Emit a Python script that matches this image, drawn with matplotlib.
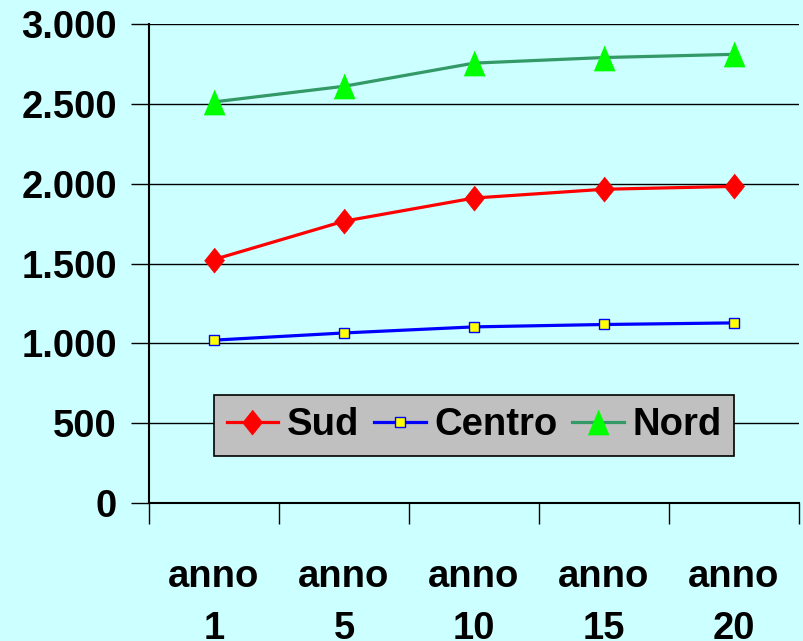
import matplotlib
matplotlib.use("Agg")
import matplotlib.pyplot as plt
from matplotlib.ticker import FuncFormatter, FixedLocator

categories = ["anno\n1", "anno\n5", "anno\n10", "anno\n15", "anno\n20"]
sud = [1525, 1765, 1910, 1965, 1983]
centro = [1020, 1065, 1103, 1118, 1128]
nord = [2512, 2610, 2755, 2790, 2810]
yticks = [0, 500, 1000, 1500, 2000, 2500, 3000]

plt.rcParams['font.family'] = ['Liberation Sans', 'DejaVu Sans']
plt.rcParams['font.weight'] = 'bold'

FS = 27.5
bg = '#CCFFFF'
fig = plt.figure(figsize=(8.04, 6.41), dpi=100, facecolor=bg)
ax = fig.add_axes([149/804, 1 - 503/641, 650/804, 479/641])
ax.set_facecolor(bg)

x = list(range(len(categories)))
diamond = [(0, 1), (0.8, 0), (0, -1), (-0.8, 0)]
tri = [(-0.84, -1), (0.84, -1), (0, 1)]

ax.plot(x, sud, color='#FF0000', lw=2.3, marker=diamond, markersize=18,
        markerfacecolor='#FF0000', markeredgecolor='#FF0000', markeredgewidth=0.5,
        label='Sud', zorder=3)
ax.plot(x, centro, color='#0000FF', lw=2.3, marker='s', markersize=7,
        markerfacecolor='#FFFF00', markeredgecolor='#0000FF', markeredgewidth=1,
        label='Centro', zorder=3)
ax.plot(x, nord, color='#339966', lw=2.3, marker=tri, markersize=18,
        markerfacecolor='#00FF00', markeredgecolor='#00FF00', markeredgewidth=0.5,
        label='Nord', zorder=3)

ax.set_xlim(-0.5, len(categories) - 0.5)
ax.set_ylim(0, 3000)
ax.set_yticks(yticks)
ax.yaxis.set_major_formatter(FuncFormatter(lambda v, p: f"{int(v):,}".replace(",", ".")))
ax.yaxis.grid(True, color='black', lw=1)
ax.set_axisbelow(True)

ax.set_xticks(x)
ax.set_xticklabels(categories, fontsize=FS, fontweight='bold', linespacing=1.6)
ax.tick_params(axis='x', which='major', length=0, pad=40)
ax.xaxis.set_minor_locator(FixedLocator([i - 0.5 for i in range(len(categories) + 1)]))
ax.tick_params(axis='x', which='minor', length=15, width=1, direction='out', color='black')
ax.tick_params(axis='y', which='major', length=13, width=1, pad=10, labelsize=FS)
for lbl in ax.get_yticklabels():
    lbl.set_fontweight('bold')

for s in ['top', 'right']:
    ax.spines[s].set_visible(False)
ax.spines['left'].set_linewidth(1.5)
ax.spines['bottom'].set_linewidth(1.5)

leg = ax.legend(loc='center', bbox_to_anchor=(0.5, 0.162), ncol=3, fontsize=FS,
                frameon=True, fancybox=False, facecolor='#C0C0C0', edgecolor='black',
                framealpha=1, handlelength=1.36, handletextpad=0.22, columnspacing=0.38,
                borderpad=0.32, borderaxespad=0)
leg.get_frame().set_linewidth(1.2)
for t in leg.get_texts():
    t.set_fontweight('bold')

fig.savefig('out.png', dpi=100, facecolor=bg)
